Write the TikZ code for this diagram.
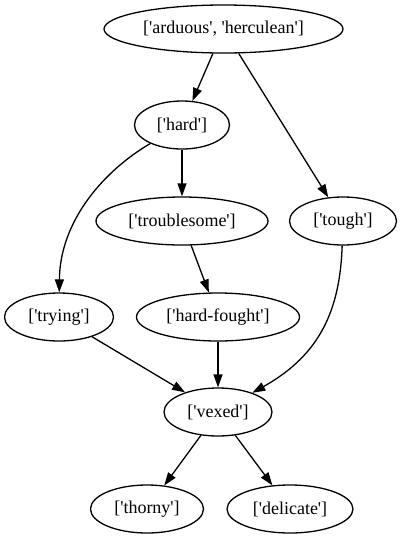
\documentclass[tikz,border=0pt]{standalone}
\usepackage{fontspec}
\setmainfont{Liberation Serif}[Ligatures=TeXOff]
\usepackage{tikz}
\usetikzlibrary{shapes.geometric, arrows.meta}
\tikzstyle{word} = [ellipse, draw=black, line width=1.3pt, minimum height=48pt, inner sep=0pt, text centered, font=\fontsize{18}{22}\selectfont]
\tikzstyle{link} = [-{Triangle[length=13pt,width=9pt]}, line width=1.3pt]

\begin{document}
\begin{tikzpicture}[x=1pt, y=-1pt]
        \useasboundingbox (0,0) rectangle (402,539);

        \node[word, minimum width=239pt] (arduous) at (223.5,29) {['arduous', 'herculean']};
        \node[word, minimum width=95pt] (hard) at (182,125) {['hard']};
        \node[word, minimum width=172pt] (troublesome) at (182,221) {['troublesome']};
        \node[word, minimum width=107pt] (tough) at (343,221) {['tough']};
        \node[word, minimum width=109pt] (trying) at (59,317) {['trying']};
        \node[word, minimum width=163pt] (hardfought) at (218,317) {['hard-fought']};
        \node[word, minimum width=108pt] (vexed) at (218,412) {['vexed']};
        \node[word, minimum width=113pt] (thorny) at (147,509) {['thorny']};
        \node[word, minimum width=126pt] (delicate) at (290,509) {['delicate']};

        \draw[link] (arduous) -- (hard);
        \draw[link] (arduous) -- (tough);
        \draw[link] (hard) -- (troublesome);
        \draw[link] (hard) .. controls (105,170) and (60,220) .. (trying);
        \draw[link] (troublesome) -- (hardfought);
        \draw[link] (trying) -- (vexed);
        \draw[link] (hardfought) -- (vexed);
        \draw[link] (tough) .. controls (340,310) and (320,355) .. (vexed);
        \draw[link] (vexed) -- (thorny);
        \draw[link] (vexed) -- (delicate);
    \end{tikzpicture}
\end{document}
